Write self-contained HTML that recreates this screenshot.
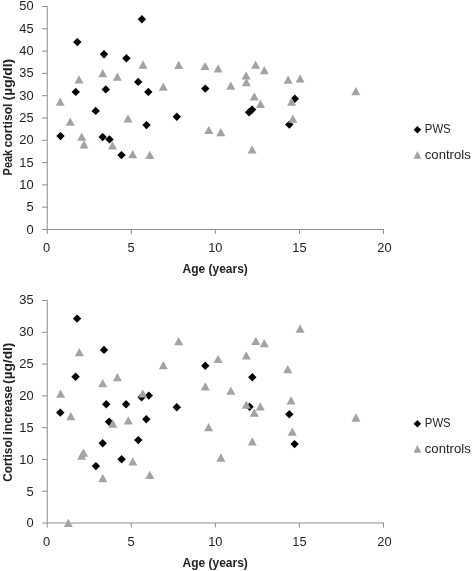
<!DOCTYPE html>
<html><head><meta charset="utf-8"><title>chart</title>
<style>
html,body{margin:0;padding:0;background:#fff;}
body{width:472px;height:571px;overflow:hidden;}
svg{display:block;will-change:transform;}
text{font-family:"Liberation Sans",sans-serif;font-size:13.6px;fill:#222222;}
text.b{font-weight:bold;font-size:12px;}
text.xl{font-size:13.3px;}
text.lg{font-size:13px;}
</style></head><body>
<svg width="472" height="571" viewBox="0 0 472 571">
<rect width="472" height="571" fill="#fff"/>
<path d="M47.25 6.0V234.0" stroke="#8a8a8a" stroke-width="0.95" fill="none"/>
<path d="M42 229.5H384.0" stroke="#8a8a8a" stroke-width="0.95" fill="none"/>
<text x="33.6" y="233.75" text-anchor="end" textLength="7.2" lengthAdjust="spacingAndGlyphs">0</text>
<path d="M42 207.20H47.25" stroke="#8a8a8a" stroke-width="0.95" fill="none"/>
<text x="33.6" y="211.41" text-anchor="end" textLength="7.2" lengthAdjust="spacingAndGlyphs">5</text>
<path d="M42 184.90H47.25" stroke="#8a8a8a" stroke-width="0.95" fill="none"/>
<text x="33.6" y="189.06" text-anchor="end" textLength="14.3" lengthAdjust="spacingAndGlyphs">10</text>
<path d="M42 162.60H47.25" stroke="#8a8a8a" stroke-width="0.95" fill="none"/>
<text x="33.6" y="166.72" text-anchor="end" textLength="14.3" lengthAdjust="spacingAndGlyphs">15</text>
<path d="M42 140.30H47.25" stroke="#8a8a8a" stroke-width="0.95" fill="none"/>
<text x="33.6" y="144.37" text-anchor="end" textLength="14.3" lengthAdjust="spacingAndGlyphs">20</text>
<path d="M42 118.00H47.25" stroke="#8a8a8a" stroke-width="0.95" fill="none"/>
<text x="33.6" y="122.02" text-anchor="end" textLength="14.3" lengthAdjust="spacingAndGlyphs">25</text>
<path d="M42 95.70H47.25" stroke="#8a8a8a" stroke-width="0.95" fill="none"/>
<text x="33.6" y="99.68" text-anchor="end" textLength="14.3" lengthAdjust="spacingAndGlyphs">30</text>
<path d="M42 73.40H47.25" stroke="#8a8a8a" stroke-width="0.95" fill="none"/>
<text x="33.6" y="77.34" text-anchor="end" textLength="14.3" lengthAdjust="spacingAndGlyphs">35</text>
<path d="M42 51.10H47.25" stroke="#8a8a8a" stroke-width="0.95" fill="none"/>
<text x="33.6" y="54.99" text-anchor="end" textLength="14.3" lengthAdjust="spacingAndGlyphs">40</text>
<path d="M42 28.80H47.25" stroke="#8a8a8a" stroke-width="0.95" fill="none"/>
<text x="33.6" y="32.65" text-anchor="end" textLength="14.3" lengthAdjust="spacingAndGlyphs">45</text>
<path d="M42 6.50H47.25" stroke="#8a8a8a" stroke-width="0.95" fill="none"/>
<text x="33.6" y="10.30" text-anchor="end" textLength="14.3" lengthAdjust="spacingAndGlyphs">50</text>
<text class="xl" x="46.50" y="251.50" text-anchor="middle" textLength="7.2" lengthAdjust="spacingAndGlyphs">0</text>
<path d="M131.31 229.5V234.0" stroke="#8a8a8a" stroke-width="0.95" fill="none"/>
<text class="xl" x="131.00" y="251.50" text-anchor="middle" textLength="7.2" lengthAdjust="spacingAndGlyphs">5</text>
<path d="M215.38 229.5V234.0" stroke="#8a8a8a" stroke-width="0.95" fill="none"/>
<text class="xl" x="215.30" y="251.50" text-anchor="middle" textLength="14.3" lengthAdjust="spacingAndGlyphs">10</text>
<path d="M299.44 229.5V234.0" stroke="#8a8a8a" stroke-width="0.95" fill="none"/>
<text class="xl" x="299.40" y="251.50" text-anchor="middle" textLength="14.3" lengthAdjust="spacingAndGlyphs">15</text>
<path d="M383.50 229.5V234.0" stroke="#8a8a8a" stroke-width="0.95" fill="none"/>
<text class="xl" x="384.40" y="251.50" text-anchor="middle" textLength="14.3" lengthAdjust="spacingAndGlyphs">20</text>
<text class="b" x="182.6" y="273.10" textLength="22.6" lengthAdjust="spacingAndGlyphs">Age</text>
<text class="b" x="208.6" y="273.10" textLength="39.2" lengthAdjust="spacingAndGlyphs">(years)</text>
<text class="b" transform="translate(11.9 175.40) rotate(-90)" textLength="25.6" lengthAdjust="spacingAndGlyphs">Peak</text>
<text class="b" transform="translate(11.9 147.50) rotate(-90)" textLength="44.0" lengthAdjust="spacingAndGlyphs">cortisol</text>
<text class="b" transform="translate(11.9 100.40) rotate(-90)" textLength="41.6" lengthAdjust="spacingAndGlyphs">(µg/dl)</text>
<path d="M141.90 15.00L146.10 19.20L141.90 23.40L137.70 19.20Z" fill="#000"/>
<path d="M77.30 37.90L81.50 42.10L77.30 46.30L73.10 42.10Z" fill="#000"/>
<path d="M104.00 50.10L108.20 54.30L104.00 58.50L99.80 54.30Z" fill="#000"/>
<path d="M126.40 54.10L130.60 58.30L126.40 62.50L122.20 58.30Z" fill="#000"/>
<path d="M138.20 77.70L142.40 81.90L138.20 86.10L134.00 81.90Z" fill="#000"/>
<path d="M75.80 87.70L80.00 91.90L75.80 96.10L71.60 91.90Z" fill="#000"/>
<path d="M105.80 85.20L110.00 89.40L105.80 93.60L101.60 89.40Z" fill="#000"/>
<path d="M148.30 87.70L152.50 91.90L148.30 96.10L144.10 91.90Z" fill="#000"/>
<path d="M95.70 106.70L99.90 110.90L95.70 115.10L91.50 110.90Z" fill="#000"/>
<path d="M146.50 120.90L150.70 125.10L146.50 129.30L142.30 125.10Z" fill="#000"/>
<path d="M60.50 131.90L64.70 136.10L60.50 140.30L56.30 136.10Z" fill="#000"/>
<path d="M102.70 132.90L106.90 137.10L102.70 141.30L98.50 137.10Z" fill="#000"/>
<path d="M109.50 135.20L113.70 139.40L109.50 143.60L105.30 139.40Z" fill="#000"/>
<path d="M121.50 150.90L125.70 155.10L121.50 159.30L117.30 155.10Z" fill="#000"/>
<path d="M205.30 84.40L209.50 88.60L205.30 92.80L201.10 88.60Z" fill="#000"/>
<path d="M176.80 112.60L181.00 116.80L176.80 121.00L172.60 116.80Z" fill="#000"/>
<path d="M249.10 108.10L253.30 112.30L249.10 116.50L244.90 112.30Z" fill="#000"/>
<path d="M252.10 105.40L256.30 109.60L252.10 113.80L247.90 109.60Z" fill="#000"/>
<path d="M294.80 94.60L299.00 98.80L294.80 103.00L290.60 98.80Z" fill="#000"/>
<path d="M289.30 120.40L293.50 124.60L289.30 128.80L285.10 124.60Z" fill="#000"/>
<path d="M143.00 60.35L147.50 68.65L138.50 68.65Z" fill="#a3a3a3"/>
<path d="M102.70 68.95L107.20 77.25L98.20 77.25Z" fill="#a3a3a3"/>
<path d="M117.30 72.55L121.80 80.85L112.80 80.85Z" fill="#a3a3a3"/>
<path d="M79.00 75.15L83.50 83.45L74.50 83.45Z" fill="#a3a3a3"/>
<path d="M60.20 97.55L64.70 105.85L55.70 105.85Z" fill="#a3a3a3"/>
<path d="M128.00 114.25L132.50 122.55L123.50 122.55Z" fill="#a3a3a3"/>
<path d="M70.20 117.55L74.70 125.85L65.70 125.85Z" fill="#a3a3a3"/>
<path d="M81.70 132.55L86.20 140.85L77.20 140.85Z" fill="#a3a3a3"/>
<path d="M84.00 140.25L88.50 148.55L79.50 148.55Z" fill="#a3a3a3"/>
<path d="M112.50 141.25L117.00 149.55L108.00 149.55Z" fill="#a3a3a3"/>
<path d="M132.70 150.05L137.20 158.35L128.20 158.35Z" fill="#a3a3a3"/>
<path d="M149.80 150.65L154.30 158.95L145.30 158.95Z" fill="#a3a3a3"/>
<path d="M178.70 60.75L183.20 69.05L174.20 69.05Z" fill="#a3a3a3"/>
<path d="M205.10 61.75L209.60 70.05L200.60 70.05Z" fill="#a3a3a3"/>
<path d="M218.10 64.25L222.60 72.55L213.60 72.55Z" fill="#a3a3a3"/>
<path d="M255.60 60.45L260.10 68.75L251.10 68.75Z" fill="#a3a3a3"/>
<path d="M264.30 66.05L268.80 74.35L259.80 74.35Z" fill="#a3a3a3"/>
<path d="M246.10 71.15L250.60 79.45L241.60 79.45Z" fill="#a3a3a3"/>
<path d="M246.30 78.05L250.80 86.35L241.80 86.35Z" fill="#a3a3a3"/>
<path d="M230.80 81.45L235.30 89.75L226.30 89.75Z" fill="#a3a3a3"/>
<path d="M163.30 82.45L167.80 90.75L158.80 90.75Z" fill="#a3a3a3"/>
<path d="M254.30 92.25L258.80 100.55L249.80 100.55Z" fill="#a3a3a3"/>
<path d="M260.50 99.75L265.00 108.05L256.00 108.05Z" fill="#a3a3a3"/>
<path d="M208.80 125.75L213.30 134.05L204.30 134.05Z" fill="#a3a3a3"/>
<path d="M220.80 127.95L225.30 136.25L216.30 136.25Z" fill="#a3a3a3"/>
<path d="M252.10 145.25L256.60 153.55L247.60 153.55Z" fill="#a3a3a3"/>
<path d="M288.10 75.45L292.60 83.75L283.60 83.75Z" fill="#a3a3a3"/>
<path d="M300.10 74.25L304.60 82.55L295.60 82.55Z" fill="#a3a3a3"/>
<path d="M355.80 86.95L360.30 95.25L351.30 95.25Z" fill="#a3a3a3"/>
<path d="M291.60 97.45L296.10 105.75L287.10 105.75Z" fill="#a3a3a3"/>
<path d="M292.80 114.45L297.30 122.75L288.30 122.75Z" fill="#a3a3a3"/>
<path d="M417.40 125.95L421.15 129.70L417.40 133.45L413.65 129.70Z" fill="#000"/>
<text class="lg" x="424.8" y="133.20" textLength="25.9" lengthAdjust="spacingAndGlyphs">PWS</text>
<path d="M417.40 151.05L421.30 158.75L413.50 158.75Z" fill="#a3a3a3"/>
<text class="lg" x="424.8" y="158.80" textLength="45.9" lengthAdjust="spacingAndGlyphs">controls</text>
<path d="M47.25 300.0V527.5" stroke="#8a8a8a" stroke-width="0.95" fill="none"/>
<path d="M42 523.0H384.0" stroke="#8a8a8a" stroke-width="0.95" fill="none"/>
<text x="33.6" y="527.45" text-anchor="end" textLength="7.2" lengthAdjust="spacingAndGlyphs">0</text>
<path d="M42 491.21H47.25" stroke="#8a8a8a" stroke-width="0.95" fill="none"/>
<text x="33.6" y="495.53" text-anchor="end" textLength="7.2" lengthAdjust="spacingAndGlyphs">5</text>
<path d="M42 459.43H47.25" stroke="#8a8a8a" stroke-width="0.95" fill="none"/>
<text x="33.6" y="463.61" text-anchor="end" textLength="14.3" lengthAdjust="spacingAndGlyphs">10</text>
<path d="M42 427.64H47.25" stroke="#8a8a8a" stroke-width="0.95" fill="none"/>
<text x="33.6" y="431.69" text-anchor="end" textLength="14.3" lengthAdjust="spacingAndGlyphs">15</text>
<path d="M42 395.86H47.25" stroke="#8a8a8a" stroke-width="0.95" fill="none"/>
<text x="33.6" y="399.76" text-anchor="end" textLength="14.3" lengthAdjust="spacingAndGlyphs">20</text>
<path d="M42 364.07H47.25" stroke="#8a8a8a" stroke-width="0.95" fill="none"/>
<text x="33.6" y="367.84" text-anchor="end" textLength="14.3" lengthAdjust="spacingAndGlyphs">25</text>
<path d="M42 332.29H47.25" stroke="#8a8a8a" stroke-width="0.95" fill="none"/>
<text x="33.6" y="335.92" text-anchor="end" textLength="14.3" lengthAdjust="spacingAndGlyphs">30</text>
<path d="M42 300.50H47.25" stroke="#8a8a8a" stroke-width="0.95" fill="none"/>
<text x="33.6" y="304.00" text-anchor="end" textLength="14.3" lengthAdjust="spacingAndGlyphs">35</text>
<text class="xl" x="46.50" y="545.50" text-anchor="middle" textLength="7.2" lengthAdjust="spacingAndGlyphs">0</text>
<path d="M131.31 523.0V527.5" stroke="#8a8a8a" stroke-width="0.95" fill="none"/>
<text class="xl" x="131.00" y="545.50" text-anchor="middle" textLength="7.2" lengthAdjust="spacingAndGlyphs">5</text>
<path d="M215.38 523.0V527.5" stroke="#8a8a8a" stroke-width="0.95" fill="none"/>
<text class="xl" x="215.30" y="545.50" text-anchor="middle" textLength="14.3" lengthAdjust="spacingAndGlyphs">10</text>
<path d="M299.44 523.0V527.5" stroke="#8a8a8a" stroke-width="0.95" fill="none"/>
<text class="xl" x="299.40" y="545.50" text-anchor="middle" textLength="14.3" lengthAdjust="spacingAndGlyphs">15</text>
<path d="M383.50 523.0V527.5" stroke="#8a8a8a" stroke-width="0.95" fill="none"/>
<text class="xl" x="384.40" y="545.50" text-anchor="middle" textLength="14.3" lengthAdjust="spacingAndGlyphs">20</text>
<text class="b" x="182.6" y="567.10" textLength="22.6" lengthAdjust="spacingAndGlyphs">Age</text>
<text class="b" x="208.6" y="567.10" textLength="39.2" lengthAdjust="spacingAndGlyphs">(years)</text>
<text class="b" transform="translate(11.9 481.80) rotate(-90)" textLength="44.8" lengthAdjust="spacingAndGlyphs">Cortisol</text>
<text class="b" transform="translate(11.9 434.40) rotate(-90)" textLength="48.6" lengthAdjust="spacingAndGlyphs">increase</text>
<text class="b" transform="translate(11.9 383.90) rotate(-90)" textLength="41.2" lengthAdjust="spacingAndGlyphs">(µg/dl)</text>
<path d="M77.10 314.40L81.30 318.60L77.10 322.80L72.90 318.60Z" fill="#000"/>
<path d="M104.00 345.70L108.20 349.90L104.00 354.10L99.80 349.90Z" fill="#000"/>
<path d="M75.60 372.60L79.80 376.80L75.60 381.00L71.40 376.80Z" fill="#000"/>
<path d="M106.20 400.10L110.40 404.30L106.20 408.50L102.00 404.30Z" fill="#000"/>
<path d="M60.30 408.40L64.50 412.60L60.30 416.80L56.10 412.60Z" fill="#000"/>
<path d="M109.10 417.60L113.30 421.80L109.10 426.00L104.90 421.80Z" fill="#000"/>
<path d="M126.10 400.10L130.30 404.30L126.10 408.50L121.90 404.30Z" fill="#000"/>
<path d="M141.60 393.10L145.80 397.30L141.60 401.50L137.40 397.30Z" fill="#000"/>
<path d="M148.80 391.40L153.00 395.60L148.80 399.80L144.60 395.60Z" fill="#000"/>
<path d="M176.80 403.10L181.00 407.30L176.80 411.50L172.60 407.30Z" fill="#000"/>
<path d="M146.30 415.10L150.50 419.30L146.30 423.50L142.10 419.30Z" fill="#000"/>
<path d="M138.30 435.90L142.50 440.10L138.30 444.30L134.10 440.10Z" fill="#000"/>
<path d="M102.70 439.10L106.90 443.30L102.70 447.50L98.50 443.30Z" fill="#000"/>
<path d="M121.60 455.10L125.80 459.30L121.60 463.50L117.40 459.30Z" fill="#000"/>
<path d="M95.90 461.90L100.10 466.10L95.90 470.30L91.70 466.10Z" fill="#000"/>
<path d="M205.30 361.60L209.50 365.80L205.30 370.00L201.10 365.80Z" fill="#000"/>
<path d="M252.30 373.10L256.50 377.30L252.30 381.50L248.10 377.30Z" fill="#000"/>
<path d="M249.60 402.60L253.80 406.80L249.60 411.00L245.40 406.80Z" fill="#000"/>
<path d="M289.30 410.10L293.50 414.30L289.30 418.50L285.10 414.30Z" fill="#000"/>
<path d="M294.60 439.90L298.80 444.10L294.60 448.30L290.40 444.10Z" fill="#000"/>
<path d="M79.30 347.95L83.80 356.25L74.80 356.25Z" fill="#a3a3a3"/>
<path d="M102.70 379.05L107.20 387.35L98.20 387.35Z" fill="#a3a3a3"/>
<path d="M117.40 372.95L121.90 381.25L112.90 381.25Z" fill="#a3a3a3"/>
<path d="M60.60 389.45L65.10 397.75L56.10 397.75Z" fill="#a3a3a3"/>
<path d="M70.80 411.95L75.30 420.25L66.30 420.25Z" fill="#a3a3a3"/>
<path d="M112.80 419.35L117.30 427.65L108.30 427.65Z" fill="#a3a3a3"/>
<path d="M83.60 448.55L88.10 456.85L79.10 456.85Z" fill="#a3a3a3"/>
<path d="M81.60 451.55L86.10 459.85L77.10 459.85Z" fill="#a3a3a3"/>
<path d="M102.80 473.85L107.30 482.15L98.30 482.15Z" fill="#a3a3a3"/>
<path d="M68.30 518.65L72.80 526.95L63.80 526.95Z" fill="#a3a3a3"/>
<path d="M178.70 337.05L183.20 345.35L174.20 345.35Z" fill="#a3a3a3"/>
<path d="M163.30 360.95L167.80 369.25L158.80 369.25Z" fill="#a3a3a3"/>
<path d="M142.80 389.25L147.30 397.55L138.30 397.55Z" fill="#a3a3a3"/>
<path d="M128.30 416.25L132.80 424.55L123.80 424.55Z" fill="#a3a3a3"/>
<path d="M132.80 457.25L137.30 465.55L128.30 465.55Z" fill="#a3a3a3"/>
<path d="M149.80 470.75L154.30 479.05L145.30 479.05Z" fill="#a3a3a3"/>
<path d="M300.10 324.45L304.60 332.75L295.60 332.75Z" fill="#a3a3a3"/>
<path d="M255.80 336.75L260.30 345.05L251.30 345.05Z" fill="#a3a3a3"/>
<path d="M264.30 338.95L268.80 347.25L259.80 347.25Z" fill="#a3a3a3"/>
<path d="M246.30 351.25L250.80 359.55L241.80 359.55Z" fill="#a3a3a3"/>
<path d="M218.10 354.75L222.60 363.05L213.60 363.05Z" fill="#a3a3a3"/>
<path d="M287.80 364.95L292.30 373.25L283.30 373.25Z" fill="#a3a3a3"/>
<path d="M205.30 382.25L209.80 390.55L200.80 390.55Z" fill="#a3a3a3"/>
<path d="M230.80 386.45L235.30 394.75L226.30 394.75Z" fill="#a3a3a3"/>
<path d="M291.10 396.25L295.60 404.55L286.60 404.55Z" fill="#a3a3a3"/>
<path d="M246.30 400.45L250.80 408.75L241.80 408.75Z" fill="#a3a3a3"/>
<path d="M260.30 402.25L264.80 410.55L255.80 410.55Z" fill="#a3a3a3"/>
<path d="M254.30 408.45L258.80 416.75L249.80 416.75Z" fill="#a3a3a3"/>
<path d="M208.60 422.95L213.10 431.25L204.10 431.25Z" fill="#a3a3a3"/>
<path d="M292.30 427.45L296.80 435.75L287.80 435.75Z" fill="#a3a3a3"/>
<path d="M252.30 437.25L256.80 445.55L247.80 445.55Z" fill="#a3a3a3"/>
<path d="M355.90 413.35L360.40 421.65L351.40 421.65Z" fill="#a3a3a3"/>
<path d="M220.90 453.35L225.40 461.65L216.40 461.65Z" fill="#a3a3a3"/>
<path d="M417.40 419.95L421.15 423.70L417.40 427.45L413.65 423.70Z" fill="#000"/>
<text class="lg" x="424.8" y="427.20" textLength="25.9" lengthAdjust="spacingAndGlyphs">PWS</text>
<path d="M417.40 445.05L421.30 452.75L413.50 452.75Z" fill="#a3a3a3"/>
<text class="lg" x="424.8" y="452.80" textLength="45.9" lengthAdjust="spacingAndGlyphs">controls</text>
</svg>
</body></html>
